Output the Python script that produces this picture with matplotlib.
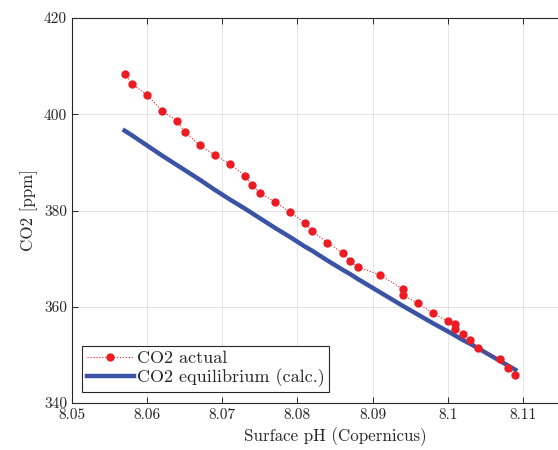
import numpy as np
import matplotlib
matplotlib.use("Agg")
import matplotlib.pyplot as plt

plt.rcParams['font.family'] = 'serif'
plt.rcParams['font.serif'] = ['cmr10', 'DejaVu Serif']
plt.rcParams['mathtext.fontset'] = 'cm'
plt.rcParams['axes.unicode_minus'] = False

# surface pH (Copernicus) and CO2 readings
ph = [8.057, 8.058, 8.060, 8.062, 8.064, 8.065, 8.067, 8.069, 8.071, 8.073,
      8.074, 8.075, 8.077, 8.079, 8.081, 8.082, 8.084, 8.086, 8.087, 8.088,
      8.091, 8.094, 8.094, 8.096, 8.098, 8.100, 8.101, 8.101, 8.102, 8.103,
      8.104, 8.107, 8.108, 8.109]
co2_actual = [408.4, 406.3, 404.0, 400.7, 398.6, 396.3, 393.6, 391.5, 389.7, 387.2,
              385.3, 383.6, 381.8, 379.7, 377.4, 375.7, 373.3, 371.2, 369.5, 368.3,
              366.6, 363.7, 362.4, 360.8, 358.7, 357.0, 356.4, 355.4, 354.3, 353.1,
              351.4, 349.1, 347.3, 345.8]
co2_equil = [396.6, 395.6, 393.5, 391.4, 389.4, 388.4, 386.4, 384.3, 382.3, 380.4,
             379.4, 378.4, 376.4, 374.5, 372.5, 371.6, 369.6, 367.7, 366.8, 365.8,
             363.0, 360.2, 360.2, 358.4, 356.6, 354.9, 354.0, 354.0, 353.1, 352.3,
             351.4, 348.7, 347.8, 346.9]

xticks = [8.05, 8.06, 8.07, 8.08, 8.09, 8.10, 8.11]
yticks = [340, 360, 380, 400, 420]

fig = plt.figure(figsize=(5.58, 4.5), dpi=100)
# axes run past the right edge of the figure (cropped at 8.115)
ax = fig.add_axes([72/558, 1-403/450, (598-72)/558, (403-18)/450])

txt = '#262626'
ax.plot(ph, co2_actual, ':', color='#ED1C24', lw=0.8, marker='o', ms=6,
        markeredgewidth=0, label='CO2 actual', zorder=3)
ax.plot(ph, co2_equil, '-', color='#3A53A4', lw=3.2, label='CO2 equilibrium (calc.)',
        zorder=2)

ax.set_xlim(8.05, 8.12)
ax.set_ylim(340, 420)
ax.set_xticks(xticks)
ax.set_xticklabels(['8.05', '8.06', '8.07', '8.08', '8.09', '8.1', '8.11'])
ax.set_yticks(yticks)
ax.grid(True, color='#000000', alpha=0.1, lw=0.7)
ax.set_axisbelow(True)
ax.tick_params(direction='in', top=True, right=True, length=4, width=0.7,
               colors=txt, labelsize=11, labelcolor=txt)
for s in ['left', 'bottom', 'top', 'right']:
    ax.spines[s].set_color(txt)
    ax.spines[s].set_linewidth(0.8)

ax.set_xlabel('Surface pH (Copernicus)', fontsize=12.2, color=txt)
ax.set_ylabel('CO2 [ppm]', fontsize=12.2, color=txt)

leg = ax.legend(loc='lower left', bbox_to_anchor=(10/526, 11/385), fontsize=13,
                fancybox=False, framealpha=1, edgecolor=txt, handlelength=2.65,
                borderpad=0.25, labelspacing=0.15, handletextpad=0.15,
                borderaxespad=0.0)
leg.get_frame().set_linewidth(0.8)
for t in leg.get_texts():
    t.set_color(txt)

fig.savefig('out.png', dpi=100)
